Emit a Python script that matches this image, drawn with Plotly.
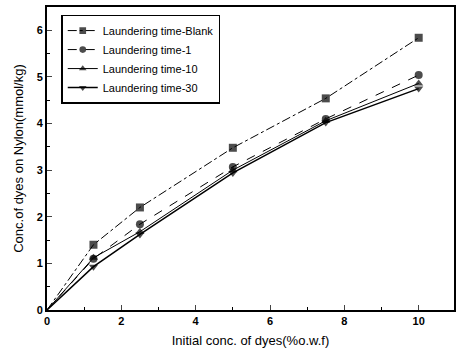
import plotly.graph_objects as go

x = [0, 1.25, 2.5, 5, 7.5, 10]
series_names = ["Laundering time-Blank", "Laundering time-1", "Laundering time-10", "Laundering time-30"]
blank = [0, 1.40, 2.20, 3.48, 4.54, 5.84]
t1 = [0, 1.10, 1.84, 3.07, 4.10, 5.04]
t10 = [0, 1.12, 1.68, 3.00, 4.06, 4.86]
t30 = [0, 0.93, 1.62, 2.94, 4.02, 4.75]
x_ticks = [0, 2, 4, 6, 8, 10]
y_ticks = [0, 1, 2, 3, 4, 5, 6]

styles = [
    dict(symbol="square", dash="dashdot", width=1),
    dict(symbol="circle", dash="dash", width=1),
    dict(symbol="triangle-up", dash="solid", width=1),
    dict(symbol="triangle-down", dash="solid", width=1.5),
]

fig = go.Figure()
for name, ys, st in zip(series_names, [blank, t1, t10, t30], styles):
    fig.add_trace(go.Scatter(
        x=x, y=ys, name=name, mode="lines+markers",
        line=dict(color="black", dash=st["dash"], width=st["width"]),
        marker=dict(symbol=st["symbol"], size=[0, 8, 8, 8, 8, 8], color="black",
                    line=dict(width=0)),
    ))

font = "Liberation Sans, Arial, sans-serif"
fig.update_layout(
    width=456, height=359,
    margin=dict(l=47, r=0, t=7, b=49),
    paper_bgcolor="white", plot_bgcolor="white",
    font=dict(family=font, color="black", size=11),
    showlegend=True,
    legend=dict(x=0.035, y=0.975, xanchor="left", yanchor="top",
                bordercolor="black", borderwidth=1.5, bgcolor="white",
                font=dict(size=11, family=font), tracegroupgap=0,
                itemwidth=30),
    xaxis=dict(range=[0, 10.95], tickvals=x_ticks, ticks="inside", ticklen=5,
               showline=True, linecolor="black", linewidth=2, mirror=True,
               showgrid=False, zeroline=False,
               tickfont=dict(size=11, family=font, weight="bold"),
               minor=dict(ticks="inside", ticklen=3, dtick=1, tickcolor="black"),
               title=dict(text="Initial conc. of dyes(%o.w.f)", font=dict(size=13, family=font), standoff=10)),
    yaxis=dict(range=[0, 6.5], tickvals=y_ticks, ticks="inside", ticklen=5,
               showline=True, linecolor="black", linewidth=2, mirror=True,
               showgrid=False, zeroline=False,
               tickfont=dict(size=11, family=font, weight="bold"),
               minor=dict(ticks="inside", ticklen=3, dtick=0.5, tickcolor="black"),
               title=dict(text="Conc.of dyes on Nylon(mmol/kg)", font=dict(size=13, family=font), standoff=10)),
)
fig.write_html("out.html")
